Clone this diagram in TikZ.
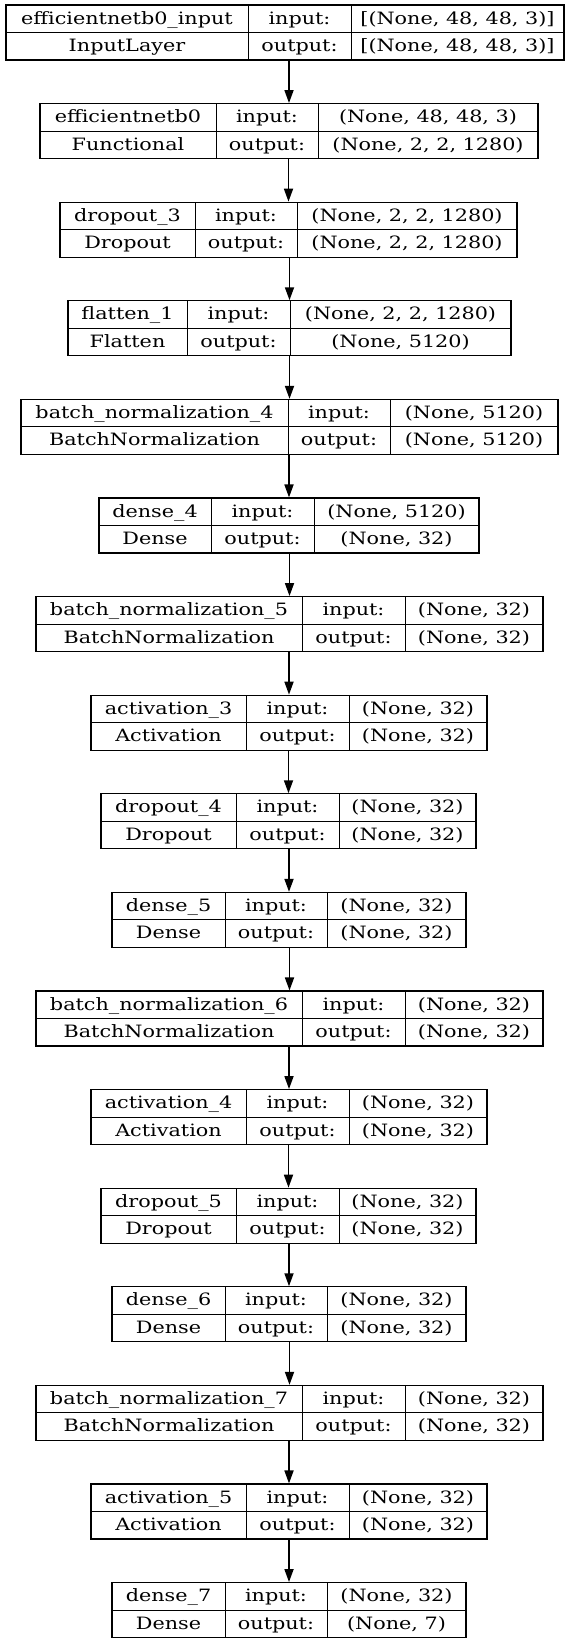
\documentclass[tikz,border=0pt]{standalone}
\usepackage{fontspec}
\setmainfont{DejaVu Serif}[FakeStretch=1.22]
\usepackage{tikz}
\usetikzlibrary{positioning, calc}
\usetikzlibrary{arrows.meta}

\begin{document}
\begin{tikzpicture}[x=1pt, y=-1pt]
			\tikzset{
				layerframe/.style={draw, line width=1.1pt, inner sep=0pt, minimum height=55pt},
				cellline/.style={line width=0.9pt},
				celltext/.style={inner sep=0pt, anchor=base, font=\fontsize{17}{17}\selectfont},
				flow/.style={-{Triangle[length=13pt, width=9pt]}, line width=1.7pt}
			}
			\useasboundingbox (0,0) rectangle (568,1638);
			\foreach \nm/\cl/\xa/\xb/\xc/\xd/\ins/\outs [count=\k] in {
				efficientnetb0\_input/InputLayer/6/248/351/564/{[(None, 48, 48, 3)]}/{[(None, 48, 48, 3)]},
				efficientnetb0/Functional/40/216/318/538/{(None, 48, 48, 3)}/{(None, 2, 2, 1280)},
				dropout\_3/Dropout/60/195/297/517/{(None, 2, 2, 1280)}/{(None, 2, 2, 1280)},
				flatten\_1/Flatten/68/187/290/511/{(None, 2, 2, 1280)}/{(None, 5120)},
				batch\_normalization\_4/BatchNormalization/21/288/390/558/{(None, 5120)}/{(None, 5120)},
				dense\_4/Dense/99/211/314/479/{(None, 5120)}/{(None, 32)},
				batch\_normalization\_5/BatchNormalization/36/302/405/543/{(None, 32)}/{(None, 32)},
				activation\_3/Activation/91/246/349/487/{(None, 32)}/{(None, 32)},
				dropout\_4/Dropout/101/236/339/476/{(None, 32)}/{(None, 32)},
				dense\_5/Dense/112/225/327/466/{(None, 32)}/{(None, 32)},
				batch\_normalization\_6/BatchNormalization/36/302/405/543/{(None, 32)}/{(None, 32)},
				activation\_4/Activation/91/246/349/487/{(None, 32)}/{(None, 32)},
				dropout\_5/Dropout/101/236/339/476/{(None, 32)}/{(None, 32)},
				dense\_6/Dense/112/225/327/466/{(None, 32)}/{(None, 32)},
				batch\_normalization\_7/BatchNormalization/36/302/405/543/{(None, 32)}/{(None, 32)},
				activation\_5/Activation/91/246/349/487/{(None, 32)}/{(None, 32)},
				dense\_7/Dense/112/225/327/466/{(None, 32)}/{(None, 7)}%
			} {
				\pgfmathsetmacro\t{5+(\k-1)*98.6}
				% frame and cells of one layer
				\node[layerframe, minimum width={(\xd-\xa)*1pt}] (L\k) at ({(\xa+\xd)/2}, \t+27.5) {};
				\draw[cellline] (L\k.west) -- (L\k.east);
				\draw[cellline] (\xb, \t) -- (\xb, \t+55);
				\draw[cellline] (\xc, \t) -- (\xc, \t+55);
				\node[celltext] (L\k-nm) at ({(\xa+\xb)/2}, \t+19) {\nm};
				\node[celltext] (L\k-cl) at ({(\xa+\xb)/2}, \t+46.5) {\cl};
				\node[celltext] (L\k-i) at ({(\xb+\xc)/2}, \t+19) {input:};
				\node[celltext] (L\k-o) at ({(\xb+\xc)/2}, \t+46.5) {output:};
				\node[celltext] (L\k-is) at ({(\xc+\xd)/2}, \t+19) {\ins};
				\node[celltext] (L\k-os) at ({(\xc+\xd)/2}, \t+46.5) {\outs};
			}
			\foreach \k [remember=\k as \j (initially 1)] in {2,...,17}
				\draw[flow] (L\j.south -| L\k.north) -- (L\k.north);
		\end{tikzpicture}
\end{document}
